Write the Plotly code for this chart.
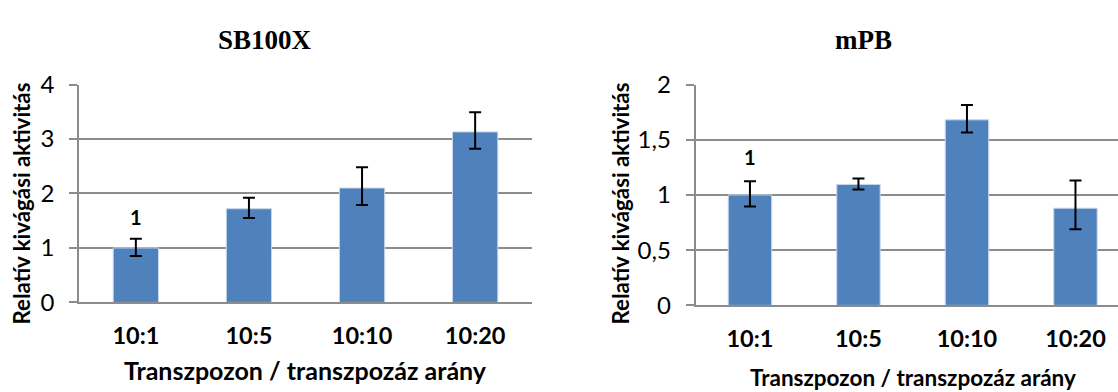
import plotly.graph_objects as go

W, H = 1118, 392

categories = ["10:1", "10:5", "10:10", "10:20"]

sb_values = [1.0, 1.72, 2.10, 3.13]
sb_err_plus = [0.17, 0.20, 0.38, 0.36]
sb_err_minus = [0.15, 0.17, 0.31, 0.31]

mpb_values = [1.0, 1.095, 1.68, 0.88]
mpb_err_plus = [0.125, 0.055, 0.135, 0.25]
mpb_err_minus = [0.105, 0.045, 0.115, 0.19]

sb_ticks = [0, 1, 2, 3, 4]
sb_ticktext = ["0", "1", "2", "3", "4"]
mpb_ticks = [0, 0.5, 1, 1.5, 2]
mpb_ticktext = ["0", "0,5", "1", "1,5", "2"]

titles = ["SB100X", "mPB"]
y_title = "Relatív kivágási aktivitás"
x_title = "Transzpozon / transzpozáz arány"
ref_label = "1"

BLUE = "#4F81BD"
GRID = "#8c8c8c"
SANS = "Lato, 'Open Sans', Arial, sans-serif"
SERIF = "'Liberation Serif', 'Times New Roman', serif"


def px(x):
    return x / W


def py(y):
    return 1 - y / H


fig = go.Figure()

err_style = dict(type="data", symmetric=False, color="black", thickness=2, width=6)

fig.add_trace(go.Bar(
    x=categories, y=sb_values, width=0.4,
    marker=dict(color=BLUE, line=dict(color="#c6d6ea", width=1)),
    error_y=dict(array=sb_err_plus, arrayminus=sb_err_minus, **err_style),
    xaxis="x", yaxis="y", showlegend=False, hoverinfo="skip",
))
fig.add_trace(go.Bar(
    x=categories, y=mpb_values, width=0.4,
    marker=dict(color=BLUE, line=dict(color="#c6d6ea", width=1)),
    error_y=dict(array=mpb_err_plus, arrayminus=mpb_err_minus, **err_style),
    xaxis="x2", yaxis="y2", showlegend=False, hoverinfo="skip",
))

common_x = dict(
    type="category", showgrid=False, zeroline=False,
    showline=True, linecolor=GRID, linewidth=2,
    ticks="", tickfont=dict(family=SANS, size=23.5, color="black", weight="bold"),
    ticklabelstandoff=11,
)
common_y = dict(
    showgrid=True, gridcolor=GRID, gridwidth=2, zeroline=False,
    showline=True, linecolor=GRID, linewidth=2,
    ticks="outside", ticklen=8, tickwidth=2, tickcolor=GRID,
    tickfont=dict(family=SANS, size=24, color="black"),
    ticklabelstandoff=10,
)

fig.update_layout(
    width=W, height=H,
    margin=dict(l=0, r=0, t=0, b=0),
    paper_bgcolor="white", plot_bgcolor="white",
    bargap=0.6,
    xaxis=dict(domain=[px(79.3), px(531.7)], anchor="y", range=[-0.5, 3.5], **common_x),
    yaxis=dict(domain=[py(309.3), py(74)], anchor="x", range=[0, 4],
               tickvals=sb_ticks, ticktext=sb_ticktext, **common_y),
    xaxis2=dict(domain=[px(695.7), 1.0], anchor="y2", range=[-0.5, 3.392], **common_x),
    yaxis2=dict(domain=[py(312.5), py(74)], anchor="x2", range=[0, 2],
                tickvals=mpb_ticks, ticktext=mpb_ticktext, **common_y),
)

annotations = [
    dict(text=f"<b>{titles[0]}</b>", x=px(265), y=py(26), xref="paper", yref="paper",
         showarrow=False, font=dict(family=SERIF, size=27, color="black"),
         xanchor="center", yanchor="middle"),
    dict(text=f"<b>{titles[1]}</b>", x=px(863.5), y=py(26), xref="paper", yref="paper",
         showarrow=False, font=dict(family=SERIF, size=27, color="black"),
         xanchor="center", yanchor="middle"),
    dict(text=f"<b>{y_title}</b>", x=px(22), y=py(202.5), xref="paper", yref="paper",
         showarrow=False, textangle=-90, font=dict(family=SANS, size=22.3, color="black"),
         xanchor="center", yanchor="middle"),
    dict(text=f"<b>{y_title}</b>", x=px(621), y=py(202.5), xref="paper", yref="paper",
         showarrow=False, textangle=-90, font=dict(family=SANS, size=22.3, color="black"),
         xanchor="center", yanchor="middle"),
    dict(text=f"<b>{x_title}</b>", x=px(305.5), y=py(382), xref="paper", yref="paper",
         showarrow=False, font=dict(family=SANS, size=25, color="black"),
         xanchor="center", yanchor="middle"),
    dict(text=f"<b>{x_title}</b>", x=px(913), y=py(390), xref="paper", yref="paper",
         showarrow=False, font=dict(family=SANS, size=22.5, color="black"),
         xanchor="center", yanchor="middle"),
    dict(text=f"<b>{ref_label}</b>", x=categories[0], y=1.57, xref="x", yref="y",
         showarrow=False, font=dict(family=SANS, size=20, color="black"),
         xanchor="center", yanchor="middle"),
    dict(text=f"<b>{ref_label}</b>", x=categories[0], y=1.34, xref="x2", yref="y2",
         showarrow=False, font=dict(family=SANS, size=20, color="black"),
         xanchor="center", yanchor="middle"),
]
fig.update_layout(annotations=annotations)

fig.write_html("out.html")
